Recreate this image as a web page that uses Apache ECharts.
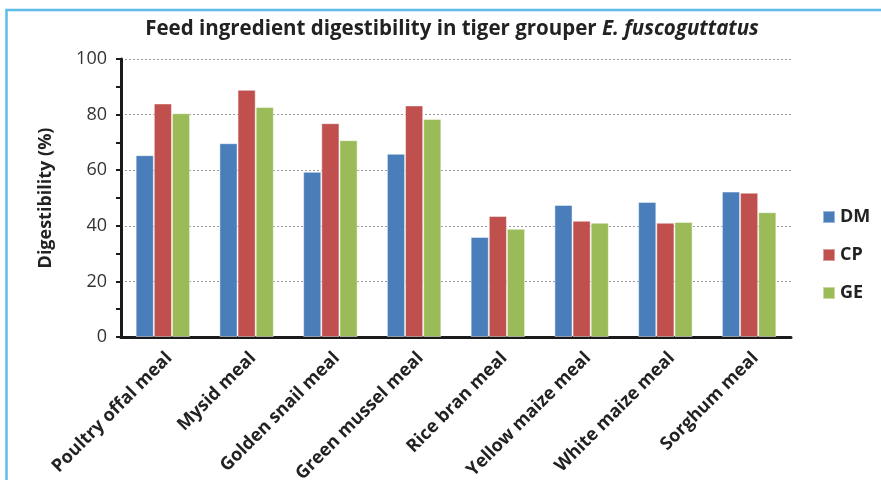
<!DOCTYPE html>
<html>
<head>
<meta charset="utf-8">
<script src="https://cdn.jsdelivr.net/npm/echarts@6/dist/echarts.min.js"></script>
<style>
  html, body { margin: 0; padding: 0; background: #fff; }
  #chart { width: 881px; height: 480px; }
</style>
</head>
<body>
<div id="chart"></div>
<script>
// Apparent digestibility (%) of feed ingredients
const categories = ['Poultry offal meal', 'Mysid meal', 'Golden snail meal', 'Green mussel meal',
  'Rice bran meal', 'Yellow maize meal', 'White maize meal', 'Sorghum meal'];
const seriesNames = ['DM', 'CP', 'GE'];
const dmValues = [65.4, 69.7, 59.4, 65.9, 36.0, 47.5, 48.6, 52.3];
const cpValues = [84.0, 88.9, 76.9, 83.3, 43.5, 41.8, 41.1, 51.9];
const geValues = [80.5, 82.7, 70.8, 78.4, 38.9, 41.1, 41.4, 44.9];
const yTicks = [0, 20, 40, 60, 80, 100];

const colors = ['#4A7EBB', '#C0504D', '#9BBB59'];
const font = '"Open Sans", Lato, sans-serif';

const chart = echarts.init(document.getElementById('chart'), null, { renderer: 'canvas' });

const makeSeries = (name, data, i) => ({
  name: name,
  type: 'bar',
  data: data,
  barGap: '0%',
  barCategoryGap: '35%',
  itemStyle: { color: colors[i], borderColor: 'rgba(255,255,255,0.45)', borderWidth: 1 }
});

chart.setOption({
  animation: false,
  backgroundColor: '#fff',
  graphic: [{
    type: 'rect',
    shape: { x: 6.5, y: 10, width: 900, height: 500 },
    style: { fill: 'none', stroke: '#5BBDE8', lineWidth: 2.5 },
    silent: true
  }],
  title: {
    text: '{n|Feed ingredient digestibility in tiger grouper }{i|E. fuscoguttatus}',
    left: 447,
    textAlign: 'center',
    top: 14,
    textStyle: {
      rich: {
        n: { fontFamily: font, fontWeight: 'bold', fontSize: 20.5, color: '#222' },
        i: { fontFamily: font, fontWeight: 'bold', fontStyle: 'italic', fontSize: 20.5, color: '#222' }
      }
    }
  },
  legend: {
    orient: 'vertical',
    left: 817,
    top: 203,
    itemWidth: 12,
    itemHeight: 12,
    itemGap: 20,
    icon: 'rect',
    data: seriesNames,
    textStyle: { fontFamily: font, fontWeight: 'bold', fontSize: 18, color: '#222' }
  },
  grid: { left: 121, right: 90, top: 59, bottom: 143, containLabel: false, outerBoundsMode: 'none' },
  xAxis: {
    type: 'category',
    data: categories,
    axisLine: { lineStyle: { color: '#1a1a1a', width: 3 } },
    axisTick: { show: false },
    axisLabel: {
      rotate: 45,
      margin: 12,
      interval: 0,
      verticalAlign: 'top',
      fontFamily: font,
      fontWeight: 'bold',
      fontSize: 18,
      color: '#222'
    }
  },
  yAxis: {
    type: 'value',
    min: yTicks[0],
    max: yTicks[yTicks.length - 1],
    interval: 20,
    name: 'Digestibility (%)',
    nameLocation: 'middle',
    nameGap: 66,
    nameTextStyle: { fontFamily: font, fontWeight: 'bold', fontSize: 18, color: '#222' },
    axisLine: { show: true, lineStyle: { color: '#1a1a1a', width: 3 } },
    axisTick: { show: true, length: 5, lineStyle: { color: '#1a1a1a', width: 2 } },
    minorTick: { show: true, splitNumber: 2, length: 5, lineStyle: { color: '#1a1a1a', width: 2 } },
    axisLabel: { fontFamily: font, fontSize: 18, color: '#333', margin: 14 },
    splitLine: { show: true, lineStyle: { color: '#999', type: [2, 2], width: 1 } }
  },
  series: [
    makeSeries(seriesNames[0], dmValues, 0),
    makeSeries(seriesNames[1], cpValues, 1),
    makeSeries(seriesNames[2], geValues, 2)
  ]
});
</script>
</body>
</html>
